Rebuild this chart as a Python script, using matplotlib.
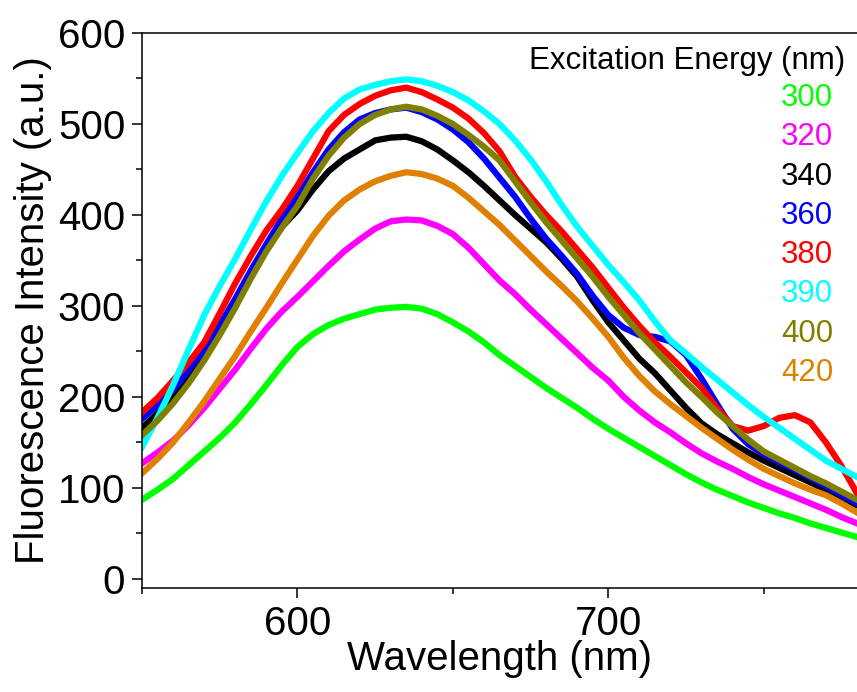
import matplotlib
matplotlib.use("Agg")
from matplotlib import pyplot as plt
from matplotlib.ticker import MultipleLocator

plt.rcParams['font.family'] = ['Liberation Sans', 'DejaVu Sans']

# wavelengths (nm), every 5 nm from 550 to 780
wl = [550, 555, 560, 565, 570, 575, 580, 585, 590, 595, 600, 605, 610, 615,
      620, 625, 630, 635, 640, 645, 650, 655, 660, 665, 670, 675, 680, 685,
      690, 695, 700, 705, 710, 715, 720, 725, 730, 735, 740, 745, 750, 755,
      760, 765, 770, 775, 780]

# intensities (a.u.), one list per excitation energy
ex_300 = [87, 98, 110, 125, 140, 155, 172, 192, 213, 235, 255, 269, 279, 286,
          291, 296, 298, 299, 297, 291, 282, 272, 260, 246, 234, 222, 210, 199,
          188, 176, 165, 155, 145, 135, 125, 115, 106, 98, 91, 84, 78, 72,
          67, 61, 56, 51, 46]
ex_320 = [127, 139, 152, 169, 188, 209, 230, 253, 275, 294, 310, 327, 344, 360,
          373, 385, 393, 395, 394, 388, 379, 364, 346, 328, 313, 296, 280, 264,
          248, 232, 218, 200, 185, 172, 161, 149, 138, 129, 121, 112, 104, 97,
          90, 83, 76, 68, 61]
ex_340 = [166, 182, 200, 222, 246, 274, 303, 335, 365, 387, 405, 428, 448, 462,
          472, 482, 485, 486, 481, 472, 460, 447, 432, 416, 400, 385, 370, 352,
          332, 306, 282, 262, 242, 226, 207, 188, 171, 159, 149, 139, 130, 122,
          114, 106, 98, 89, 81]
ex_360 = [176, 191, 208, 229, 252, 279, 308, 339, 368, 396, 420, 447, 472, 491,
          505, 512, 516, 518, 513, 505, 494, 480, 462, 441, 420, 396, 374, 355,
          335, 311, 290, 276, 268, 266, 261, 246, 220, 192, 165, 148, 137, 128,
          120, 111, 102, 92, 83]
ex_380 = [183, 199, 218, 238, 260, 292, 325, 355, 383, 406, 432, 462, 492, 510,
          522, 531, 537, 540, 535, 527, 518, 506, 490, 470, 442, 420, 400, 382,
          362, 342, 320, 298, 278, 260, 244, 227, 210, 188, 168, 163, 168, 177,
          180, 172, 150, 124, 94]
ex_390 = [145, 177, 213, 252, 290, 322, 352, 384, 415, 443, 468, 492, 512, 528,
          538, 543, 547, 549, 547, 542, 535, 526, 514, 500, 482, 461, 437, 411,
          387, 366, 345, 326, 306, 283, 262, 248, 233, 219, 205, 191, 178, 166,
          154, 142, 130, 121, 112]
ex_400 = [158, 174, 193, 215, 240, 268, 298, 330, 360, 386, 410, 440, 465, 485,
          500, 510, 516, 519, 516, 509, 500, 488, 475, 460, 437, 414, 392, 372,
          352, 332, 310, 290, 270, 252, 234, 216, 200, 183, 168, 153, 140, 131,
          122, 113, 105, 96, 87]
ex_420 = [116, 132, 150, 172, 195, 220, 245, 272, 298, 325, 351, 377, 399, 416,
          428, 437, 443, 447, 445, 440, 432, 419, 404, 389, 372, 355, 338, 322,
          305, 286, 266, 243, 223, 206, 192, 179, 166, 154, 142, 131, 121, 113,
          105, 98, 92, 83, 73]

labels = ['300', '320', '340', '360', '380', '390', '400', '420']
series = [ex_300, ex_320, ex_340, ex_360, ex_380, ex_390, ex_400, ex_420]
colors = ['#00FF00', '#FF00FF', '#000000', '#0000FF',
          '#FF0000', '#00FFFF', '#808000', '#E08000']

fig = plt.figure(figsize=(8.57, 6.92), dpi=100)
ax = fig.add_axes([142 / 857, 1 - 588 / 692, 715 / 857, 555 / 692])

for vals, col in zip(series, colors):
    ax.plot(wl, vals, color=col, linewidth=4.5, solid_joinstyle='round')

ax.set_xlim(550, 780)
ax.set_ylim(-10, 600)
ax.xaxis.set_major_locator(MultipleLocator(100))
ax.xaxis.set_minor_locator(MultipleLocator(50))
ax.yaxis.set_major_locator(MultipleLocator(100))
ax.yaxis.set_minor_locator(MultipleLocator(50))
ax.tick_params(which='major', direction='out', length=7, width=1.1,
               labelsize=29, pad=5)
ax.tick_params(which='minor', direction='out', length=4, width=1.1)
ax.tick_params(top=False, right=False, which='both')
for side in ('left', 'bottom', 'top'):
    ax.spines[side].set_linewidth(1.1)
ax.spines['right'].set_visible(False)

ax.set_xlabel('Wavelength (nm)', fontsize=29, labelpad=-2)
ax.set_ylabel('Fluorescence Intensity (a.u.)', fontsize=29, labelpad=4)

# legend drawn as coloured text
ax.text(0.983, 0.9495, 'Excitation Energy (nm)', transform=ax.transAxes,
        fontsize=22.5, ha='right', va='center')
row_y = [0.883, 0.8126, 0.7405, 0.670, 0.600, 0.530, 0.458, 0.388]
for lab, col, yy in zip(labels, colors, row_y):
    ax.text(0.894, yy, lab, transform=ax.transAxes, fontsize=22.5,
            color=col, ha='left', va='center')

fig.savefig('out.png', dpi=100)
